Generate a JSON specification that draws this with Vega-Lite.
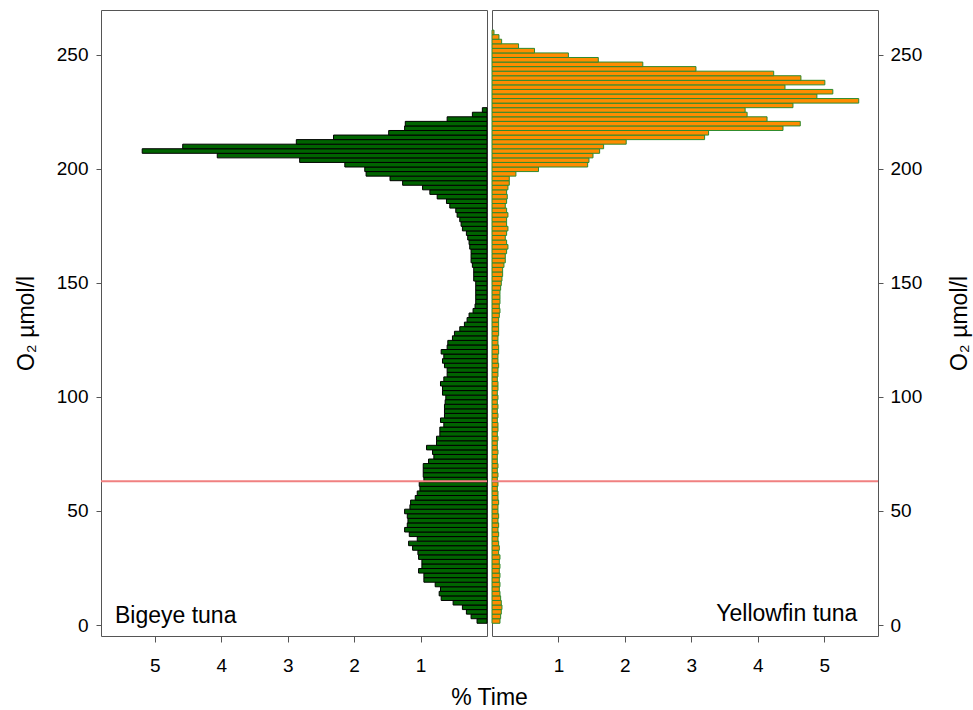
{
  "$schema": "https://vega.github.io/schema/vega-lite/v6.json",
  "background": "white",
  "autosize": {"type": "pad"},
  "padding": {"left": 14, "top": 9, "right": 5, "bottom": 5},
  "bounds": "flush",
  "spacing": 5,
  "config": {
    "font": "Liberation Sans",
    "view": {"stroke": "#555555", "strokeWidth": 1},
    "axis": {"domain": false, "grid": false, "tickColor": "#555555", "tickWidth": 1, "labelColor": "#000000", "labelFontSize": 19, "titleFontSize": 23, "titleFontWeight": "normal", "titleColor": "#000000", "labelFont": "Liberation Sans", "titleFont": "Liberation Sans"}
  },
  "datasets": {
    "tuna": [
      {"o2": 1, "be": 0.15, "yf": 0.12}, {"o2": 3, "be": 0.24, "yf": 0.13}, {"o2": 5, "be": 0.31, "yf": 0.14}, {"o2": 7, "be": 0.37, "yf": 0.15},
      {"o2": 9, "be": 0.51, "yf": 0.14}, {"o2": 11, "be": 0.69, "yf": 0.13}, {"o2": 13, "be": 0.72, "yf": 0.12}, {"o2": 15, "be": 0.70, "yf": 0.11},
      {"o2": 17, "be": 0.78, "yf": 0.12}, {"o2": 19, "be": 0.95, "yf": 0.11}, {"o2": 21, "be": 0.95, "yf": 0.12}, {"o2": 23, "be": 1.03, "yf": 0.11},
      {"o2": 25, "be": 0.98, "yf": 0.12}, {"o2": 27, "be": 0.98, "yf": 0.11}, {"o2": 29, "be": 1.03, "yf": 0.12}, {"o2": 31, "be": 1.04, "yf": 0.10},
      {"o2": 33, "be": 1.12, "yf": 0.11}, {"o2": 35, "be": 1.18, "yf": 0.10}, {"o2": 37, "be": 1.05, "yf": 0.09}, {"o2": 39, "be": 1.17, "yf": 0.10},
      {"o2": 41, "be": 1.24, "yf": 0.09}, {"o2": 43, "be": 1.20, "yf": 0.10}, {"o2": 45, "be": 1.19, "yf": 0.09}, {"o2": 47, "be": 1.20, "yf": 0.10},
      {"o2": 49, "be": 1.24, "yf": 0.09}, {"o2": 51, "be": 1.16, "yf": 0.09}, {"o2": 53, "be": 1.15, "yf": 0.10}, {"o2": 55, "be": 1.08, "yf": 0.09},
      {"o2": 57, "be": 1.05, "yf": 0.09}, {"o2": 59, "be": 1.01, "yf": 0.08}, {"o2": 61, "be": 1.02, "yf": 0.09}, {"o2": 63, "be": 0.95, "yf": 0.08},
      {"o2": 65, "be": 0.96, "yf": 0.09}, {"o2": 67, "be": 0.96, "yf": 0.08}, {"o2": 69, "be": 0.96, "yf": 0.09}, {"o2": 71, "be": 0.88, "yf": 0.08},
      {"o2": 73, "be": 0.80, "yf": 0.08}, {"o2": 75, "be": 0.82, "yf": 0.09}, {"o2": 77, "be": 0.91, "yf": 0.08}, {"o2": 79, "be": 0.76, "yf": 0.08},
      {"o2": 81, "be": 0.76, "yf": 0.09}, {"o2": 83, "be": 0.71, "yf": 0.08}, {"o2": 85, "be": 0.71, "yf": 0.09}, {"o2": 87, "be": 0.65, "yf": 0.09},
      {"o2": 89, "be": 0.70, "yf": 0.08}, {"o2": 91, "be": 0.64, "yf": 0.09}, {"o2": 93, "be": 0.64, "yf": 0.08}, {"o2": 95, "be": 0.64, "yf": 0.09},
      {"o2": 97, "be": 0.63, "yf": 0.08}, {"o2": 99, "be": 0.62, "yf": 0.09}, {"o2": 101, "be": 0.67, "yf": 0.08}, {"o2": 103, "be": 0.67, "yf": 0.09},
      {"o2": 105, "be": 0.70, "yf": 0.09}, {"o2": 107, "be": 0.65, "yf": 0.08}, {"o2": 109, "be": 0.60, "yf": 0.09}, {"o2": 111, "be": 0.60, "yf": 0.09},
      {"o2": 113, "be": 0.64, "yf": 0.10}, {"o2": 115, "be": 0.67, "yf": 0.09}, {"o2": 117, "be": 0.65, "yf": 0.09}, {"o2": 119, "be": 0.69, "yf": 0.10},
      {"o2": 121, "be": 0.60, "yf": 0.10}, {"o2": 123, "be": 0.59, "yf": 0.09}, {"o2": 125, "be": 0.52, "yf": 0.09}, {"o2": 127, "be": 0.49, "yf": 0.10},
      {"o2": 129, "be": 0.41, "yf": 0.10}, {"o2": 131, "be": 0.34, "yf": 0.10}, {"o2": 133, "be": 0.30, "yf": 0.10}, {"o2": 135, "be": 0.27, "yf": 0.11},
      {"o2": 137, "be": 0.21, "yf": 0.12}, {"o2": 139, "be": 0.18, "yf": 0.11}, {"o2": 141, "be": 0.17, "yf": 0.12}, {"o2": 143, "be": 0.17, "yf": 0.12},
      {"o2": 145, "be": 0.17, "yf": 0.12}, {"o2": 147, "be": 0.17, "yf": 0.13}, {"o2": 149, "be": 0.17, "yf": 0.14}, {"o2": 151, "be": 0.20, "yf": 0.15},
      {"o2": 153, "be": 0.20, "yf": 0.16}, {"o2": 155, "be": 0.20, "yf": 0.16}, {"o2": 157, "be": 0.22, "yf": 0.18}, {"o2": 159, "be": 0.24, "yf": 0.20},
      {"o2": 161, "be": 0.24, "yf": 0.20}, {"o2": 163, "be": 0.24, "yf": 0.22}, {"o2": 165, "be": 0.26, "yf": 0.24}, {"o2": 167, "be": 0.27, "yf": 0.22},
      {"o2": 169, "be": 0.29, "yf": 0.20}, {"o2": 171, "be": 0.31, "yf": 0.22}, {"o2": 173, "be": 0.37, "yf": 0.24}, {"o2": 175, "be": 0.39, "yf": 0.22},
      {"o2": 177, "be": 0.41, "yf": 0.22}, {"o2": 179, "be": 0.45, "yf": 0.24}, {"o2": 181, "be": 0.47, "yf": 0.22}, {"o2": 183, "be": 0.56, "yf": 0.20},
      {"o2": 185, "be": 0.61, "yf": 0.22}, {"o2": 187, "be": 0.75, "yf": 0.23}, {"o2": 189, "be": 0.86, "yf": 0.22}, {"o2": 191, "be": 0.97, "yf": 0.24},
      {"o2": 193, "be": 1.27, "yf": 0.26}, {"o2": 195, "be": 1.46, "yf": 0.26}, {"o2": 197, "be": 1.82, "yf": 0.36}, {"o2": 199, "be": 1.84, "yf": 0.70},
      {"o2": 201, "be": 2.14, "yf": 1.44}, {"o2": 203, "be": 2.82, "yf": 1.46}, {"o2": 205, "be": 4.06, "yf": 1.52}, {"o2": 207, "be": 5.19, "yf": 1.62},
      {"o2": 209, "be": 4.58, "yf": 1.68}, {"o2": 211, "be": 2.87, "yf": 2.02}, {"o2": 213, "be": 2.31, "yf": 3.20}, {"o2": 215, "be": 1.48, "yf": 3.26},
      {"o2": 217, "be": 1.24, "yf": 4.38}, {"o2": 219, "be": 1.23, "yf": 4.64}, {"o2": 221, "be": 0.60, "yf": 4.14}, {"o2": 223, "be": 0.22, "yf": 3.84},
      {"o2": 225, "be": 0.07, "yf": 3.81}, {"o2": 227, "be": 0, "yf": 4.53}, {"o2": 229, "be": 0, "yf": 5.52}, {"o2": 231, "be": 0, "yf": 4.89},
      {"o2": 233, "be": 0, "yf": 5.13}, {"o2": 235, "be": 0, "yf": 4.41}, {"o2": 237, "be": 0, "yf": 5.01}, {"o2": 239, "be": 0, "yf": 4.65},
      {"o2": 241, "be": 0, "yf": 4.24}, {"o2": 243, "be": 0, "yf": 3.07}, {"o2": 245, "be": 0, "yf": 2.27}, {"o2": 247, "be": 0, "yf": 1.60},
      {"o2": 249, "be": 0, "yf": 1.15}, {"o2": 251, "be": 0, "yf": 0.64}, {"o2": 253, "be": 0, "yf": 0.40}, {"o2": 255, "be": 0, "yf": 0.145},
      {"o2": 257, "be": 0, "yf": 0.105}, {"o2": 259, "be": 0, "yf": 0.03}
    ]
  },
  "hconcat": [
    {
      "width": 386,
      "height": 626,
      "encoding": {
        "y": {"type": "quantitative",
              "scale": {"domain": [-4.8, 269.6], "nice": false, "zero": false},
              "axis": {"values": [0, 50, 100, 150, 200, 250], "format": "d", "title": "O₂ µmol/l", "tickSize": 5, "labelPadding": 8, "titlePadding": 18}},
        "x": {"type": "quantitative",
              "scale": {"domain": [0, 5.81], "reverse": true, "nice": false},
              "axis": {"values": [1, 2, 3, 4, 5], "format": "d", "title": "% Time", "tickSize": 6, "labelPadding": 14, "titleX": 388, "titleY": 68, "titleBaseline": "alphabetic", "titleAlign": "center"}}
      },
      "layer": [
        {
          "data": {"name": "tuna"},
          "transform": [{"filter": "datum.be > 0"}],
          "mark": {"type": "bar", "fill": "#006400", "stroke": "#000000", "strokeWidth": 1, "binSpacing": 0},
          "encoding": {
            "y": {"field": "o2", "type": "quantitative", "bin": {"binned": true, "step": 2}, "title": "O₂ µmol/l"},
            "x": {"field": "be", "type": "quantitative", "title": "% Time"}
          }
        },
        {
          "data": {"values": [{}]},
          "mark": {"type": "rule", "color": "#F08080", "strokeWidth": 2},
          "encoding": {"y": {"datum": 63, "title": "O₂ µmol/l"}}
        },
        {
          "data": {"values": [{}]},
          "mark": {"type": "text", "align": "left", "baseline": "alphabetic", "fontSize": 23, "color": "#000000"},
          "encoding": {"x": {"datum": 5.6, "title": "% Time"}, "y": {"datum": 0.75, "title": "O₂ µmol/l"}, "text": {"value": "Bigeye tuna"}}
        }
      ]
    },
    {
      "width": 386,
      "height": 626,
      "encoding": {
        "y": {"type": "quantitative",
              "scale": {"domain": [-4.8, 269.6], "nice": false, "zero": false},
              "axis": {"orient": "right", "values": [0, 50, 100, 150, 200, 250], "format": "d", "title": "O₂ µmol/l", "titleAngle": 270, "tickSize": 5, "labelPadding": 7, "titlePadding": 50}},
        "x": {"type": "quantitative",
              "scale": {"domain": [0, 5.81], "nice": false},
              "axis": {"values": [1, 2, 3, 4, 5], "format": "d", "title": null, "tickSize": 6, "labelPadding": 14}}
      },
      "layer": [
        {
          "data": {"name": "tuna"},
          "transform": [{"filter": "datum.yf > 0"}],
          "mark": {"type": "bar", "fill": "#FF8C00", "stroke": "#2E8B2E", "strokeWidth": 1, "binSpacing": 0},
          "encoding": {
            "y": {"field": "o2", "type": "quantitative", "bin": {"binned": true, "step": 2}, "title": "O₂ µmol/l"},
            "x": {"field": "yf", "type": "quantitative", "title": null}
          }
        },
        {
          "data": {"values": [{}]},
          "mark": {"type": "rule", "color": "#F08080", "strokeWidth": 2},
          "encoding": {"y": {"datum": 63, "title": "O₂ µmol/l"}}
        },
        {
          "data": {"values": [{}]},
          "mark": {"type": "text", "align": "right", "baseline": "alphabetic", "fontSize": 23, "color": "#000000"},
          "encoding": {"x": {"datum": 5.5, "title": null}, "y": {"datum": 1.9, "title": "O₂ µmol/l"}, "text": {"value": "Yellowfin tuna"}}
        }
      ]
    }
  ]
}
